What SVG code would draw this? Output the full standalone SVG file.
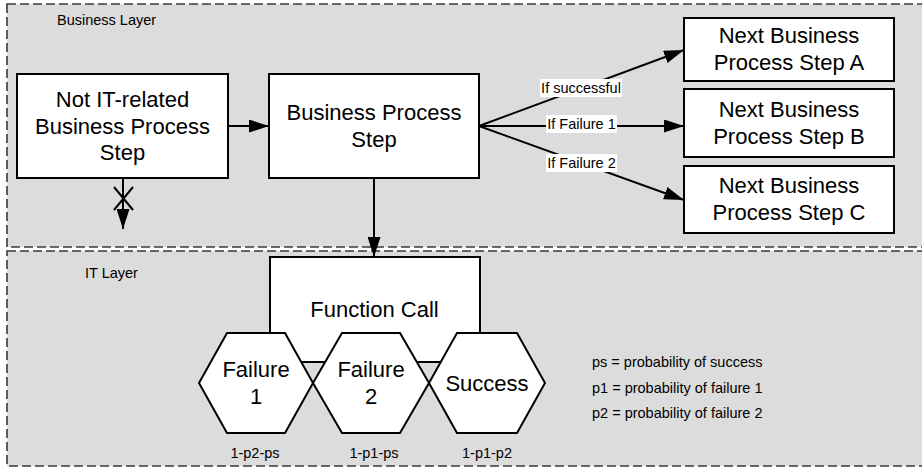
<svg xmlns="http://www.w3.org/2000/svg" width="922" height="467" viewBox="0 0 922 467">
<style>
.layer{fill:#dcdcdc;stroke:#3a3a3a;stroke-width:1.6;stroke-dasharray:9 4}
.box{fill:#fff;stroke:#000;stroke-width:2}
.t{font-family:"Liberation Sans",Arial,sans-serif;font-size:22px;fill:#000;text-anchor:middle}
.s{font-family:"Liberation Sans",Arial,sans-serif;font-size:14.5px;fill:#000}
.c{text-anchor:middle}
.ln{stroke:#000;stroke-width:2;fill:none}
.lbl{fill:#fff}
</style>
<defs>
<marker id="arrL" viewBox="0 0 20 13" refX="20" refY="6.5" markerWidth="20" markerHeight="13" markerUnits="userSpaceOnUse" orient="auto">
<path d="M0,0 L20,6.5 L0,13 z" fill="#000"/>
</marker>
</defs>
<g id="business-layer">
<rect class="layer" x="7" y="4" width="925" height="243"/>
<text class="s" x="57" y="25">Business Layer</text>
</g>
<g id="it-layer">
<rect class="layer" x="7" y="251" width="925" height="215"/>
<text class="s" x="85" y="278">IT Layer</text>
</g>
<g id="connectors">
<line class="ln" x1="228" y1="126" x2="269" y2="126" marker-end="url(#arrL)"/>
<line class="ln" x1="123" y1="178" x2="123" y2="229" marker-end="url(#arrL)"/>
<line class="ln" x1="114" y1="187" x2="133" y2="210"/>
<line class="ln" x1="133" y1="187" x2="114" y2="210"/>
<line class="ln" x1="374" y1="178" x2="374" y2="257" marker-end="url(#arrL)"/>
<line class="ln" x1="479" y1="126" x2="684" y2="50" marker-end="url(#arrL)"/>
<line class="ln" x1="479" y1="126" x2="684" y2="126" marker-end="url(#arrL)"/>
<line class="ln" x1="479" y1="126" x2="684" y2="200" marker-end="url(#arrL)"/>
<rect class="lbl" x="540" y="79" width="82" height="18"/>
<text class="s c" x="581" y="93">If successful</text>
<rect class="lbl" x="546" y="115" width="71" height="18"/>
<text class="s c" x="581.5" y="129">If Failure 1</text>
<rect class="lbl" x="546" y="154" width="71" height="18"/>
<text class="s c" x="581.5" y="168">If Failure 2</text>
</g>
<g id="not-it-step">
<rect class="box" x="17" y="74" width="211" height="104"/>
<text class="t" x="122.5" y="107">Not IT-related</text>
<text class="t" x="122.5" y="133.5">Business Process</text>
<text class="t" x="122.5" y="160">Step</text>
</g>
<g id="business-step">
<rect class="box" x="269" y="74" width="210" height="104"/>
<text class="t" x="374" y="120">Business Process</text>
<text class="t" x="374" y="147">Step</text>
</g>
<g id="next-a">
<rect class="box" x="684" y="18" width="210" height="63"/>
<text class="t" x="789" y="43">Next Business</text>
<text class="t" x="789" y="70">Process Step A</text>
</g>
<g id="next-b">
<rect class="box" x="684" y="89" width="210" height="68"/>
<text class="t" x="789" y="117">Next Business</text>
<text class="t" x="789" y="144">Process Step B</text>
</g>
<g id="next-c">
<rect class="box" x="684" y="166" width="210" height="67"/>
<text class="t" x="789" y="193">Next Business</text>
<text class="t" x="789" y="220">Process Step C</text>
</g>
<g id="function-call">
<rect class="box" x="270" y="257" width="210" height="105"/>
<text class="t" x="374.5" y="317">Function Call</text>
</g>
<g id="failure-1">
<polygon class="box" points="199,383 227,333 285,333 313,383 285,433 227,433"/>
<text class="t" x="256" y="377">Failure</text>
<text class="t" x="256" y="404">1</text>
</g>
<g id="failure-2">
<polygon class="box" points="313,383 342,333 400,333 429,383 400,433 342,433"/>
<text class="t" x="371" y="377">Failure</text>
<text class="t" x="371" y="404">2</text>
</g>
<g id="success">
<polygon class="box" points="429,383 457,333 517,333 545,383 517,433 457,433"/>
<text class="t" x="487" y="391">Success</text>
</g>
<g id="probabilities">
<text class="s c" x="255" y="458">1-p2-ps</text>
<text class="s c" x="374" y="458">1-p1-ps</text>
<text class="s c" x="487" y="458">1-p1-p2</text>
<text class="s" x="592" y="367">ps = probability of success</text>
<text class="s" x="592" y="393">p1 = probability of failure 1</text>
<text class="s" x="592" y="418">p2 = probability of failure 2</text>
</g>
</svg>
